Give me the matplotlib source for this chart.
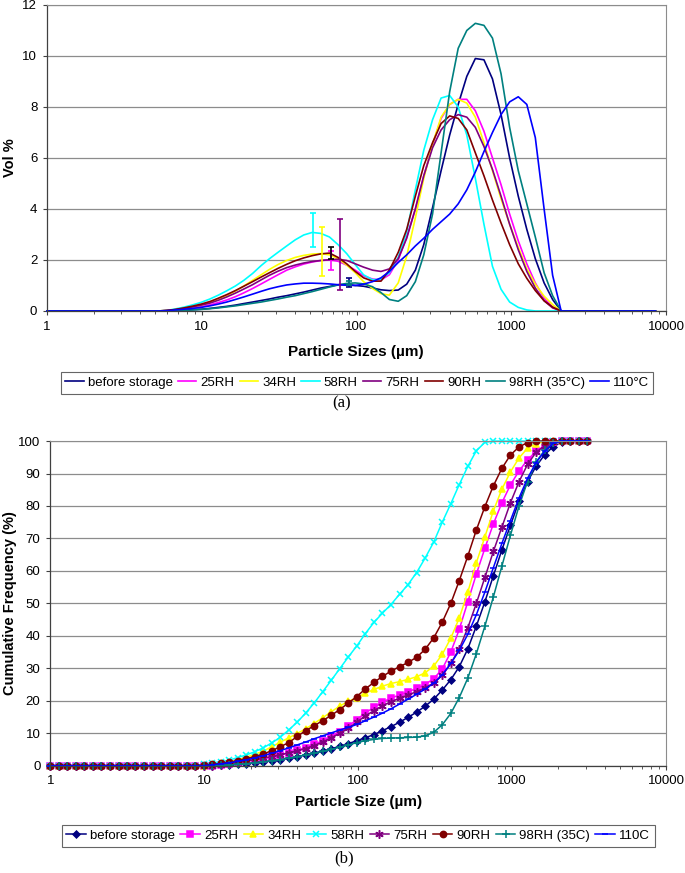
"""Particle size distributions: volume % (a) and cumulative frequency (b)."""

import matplotlib
matplotlib.use("Agg")
import matplotlib.pyplot as plt
from matplotlib.lines import Line2D
from matplotlib.ticker import FixedLocator, FixedFormatter, LogLocator, NullFormatter

plt.rcParams['font.family'] = ['Liberation Sans', 'DejaVu Sans']

# size classes (um)
size_cum = [1.00, 1.14, 1.29, 1.47, 1.67, 1.89, 2.15, 2.44, 2.78, 3.15, 3.58, 4.07, 4.62,
            5.25, 5.96, 6.77, 7.69, 8.74, 9.93, 11.3, 12.8, 14.5, 16.5, 18.7, 21.3, 24.2,
            27.4, 31.1, 35.4, 40.2, 45.6, 51.8, 58.9, 66.9, 76.0, 86.4, 98.1, 111, 127,
            144, 163, 186, 211, 240, 272, 310, 352, 400, 454, 516, 586, 666, 756, 859,
            976, 1110, 1260, 1430, 1630, 1850, 2100, 2390, 2710, 3080]
size_vol = size_cum + [3500, 3980, 4520, 5130, 5830, 6620, 7520, 8540]

labels_vol = ["before storage", "25RH", "34RH", "58RH", "75RH", "90RH", "98RH (35°C)", "110°C"]
labels_cum = ["before storage", "25RH", "34RH", "58RH", "75RH", "90RH", "98RH (35C)", "110C"]

# (a) volume %
vol_before = [0] * 14 + [0, 0.01, 0.03, 0.05, 0.07, 0.1, 0.14, 0.18, 0.23, 0.29, 0.35, 0.41, 0.47,
                         0.54, 0.6, 0.67, 0.74, 0.82, 0.9, 0.96, 1.03, 1.04, 1.0, 0.97, 0.9, 0.83,
                         0.8, 0.82, 1.05, 1.6, 2.6, 4.05, 5.5, 6.9, 8.1, 9.2, 9.9, 9.85, 9.1, 7.7,
                         6.0, 4.5, 3.2, 2.05, 1.1, 0.45] + [0] * 12
vol_25rh = [0] * 14 + [0.01, 0.04, 0.08, 0.12, 0.17, 0.24, 0.33, 0.43, 0.56, 0.71, 0.88, 1.06, 1.24,
                       1.42, 1.6, 1.73, 1.84, 1.92, 1.98, 2.0, 1.95, 1.8, 1.6, 1.38, 1.25, 1.22,
                       1.42, 2.0, 2.9, 4.0, 5.3, 6.5, 7.55, 8.1, 8.3, 8.3, 7.85, 7.05, 6.0, 4.95,
                       3.8, 2.75, 1.85, 1.1, 0.5, 0.16] + [0] * 12
vol_34rh = [0] * 14 + [0.02, 0.05, 0.1, 0.16, 0.23, 0.33, 0.45, 0.6, 0.78, 0.98, 1.2, 1.42, 1.63,
                       1.82, 1.98, 2.1, 2.18, 2.23, 2.25, 2.2, 2.05, 1.8, 1.5, 1.15, 0.88, 0.68,
                       0.62, 1.1, 2.15, 3.65, 5.2, 6.55, 7.6, 8.1, 8.3, 8.15, 7.6, 6.6, 5.5, 4.4,
                       3.4, 2.5, 1.65, 1.05, 0.58, 0.25] + [0] * 12
vol_58rh = [0] * 14 + [0.02, 0.08, 0.15, 0.24, 0.34, 0.47, 0.62, 0.79, 0.98, 1.2, 1.47, 1.78, 2.05,
                       2.3, 2.55, 2.79, 2.98, 3.08, 3.04, 2.9, 2.6, 2.25, 1.82, 1.42, 1.22, 1.25,
                       1.5, 2.1, 3.1, 4.75, 6.3, 7.5, 8.35, 8.45, 8.0, 6.9, 5.2, 3.4, 1.75, 0.85,
                       0.35, 0.14, 0.04, 0, 0, 0] + [0] * 12
vol_75rh = [0] * 14 + [0.02, 0.05, 0.1, 0.16, 0.23, 0.31, 0.42, 0.55, 0.7, 0.86, 1.03, 1.22, 1.4,
                       1.56, 1.7, 1.8, 1.88, 1.94, 1.98, 2.01, 2.03, 1.98, 1.85, 1.72, 1.6, 1.55,
                       1.65, 2.05, 2.85, 4.0, 5.3, 6.4, 7.1, 7.5, 7.7, 7.6, 7.2, 6.45, 5.55, 4.5,
                       3.4, 2.4, 1.55, 0.9, 0.4, 0.12] + [0] * 12
vol_90rh = [0] * 14 + [0.02, 0.06, 0.12, 0.19, 0.27, 0.37, 0.5, 0.64, 0.8, 0.97, 1.15, 1.33, 1.5,
                       1.67, 1.83, 1.97, 2.08, 2.17, 2.24, 2.27, 2.1, 1.85, 1.55, 1.3, 1.17, 1.17,
                       1.6, 2.3, 3.2, 4.5, 5.7, 6.6, 7.35, 7.65, 7.55, 7.1, 6.2, 5.3, 4.35, 3.45,
                       2.6, 1.85, 1.28, 0.8, 0.4, 0.15] + [0] * 12
vol_98rh = [0] * 14 + [0, 0.01, 0.02, 0.04, 0.06, 0.09, 0.12, 0.16, 0.2, 0.25, 0.3, 0.35, 0.41,
                       0.47, 0.54, 0.6, 0.68, 0.76, 0.85, 0.94, 1.02, 1.08, 1.1, 1.06, 0.95, 0.72,
                       0.45, 0.38, 0.6, 1.15, 2.2, 3.8, 6.2, 8.6, 10.3, 11.0, 11.28, 11.2, 10.7,
                       9.3, 7.2, 5.5, 4.2, 2.9, 1.5, 0.6] + [0] * 12
vol_110c = [0] * 14 + [0.01, 0.04, 0.07, 0.1, 0.14, 0.2, 0.27, 0.35, 0.45, 0.55, 0.66, 0.77, 0.87,
                       0.95, 1.02, 1.06, 1.09, 1.09, 1.08, 1.06, 1.03, 1.01, 1.0, 1.05, 1.15, 1.3,
                       1.55, 1.9, 2.2, 2.55, 2.85, 3.2, 3.5, 3.8, 4.2, 4.75, 5.45, 6.25, 7.0, 7.7,
                       8.2, 8.4, 8.1, 6.8, 4.0, 1.4] + [0] * 12

# error bars on the fine mode of (a)
err_x = [52, 59.7, 68.7, 68.7, 78.5, 90, 90]
err_y = [3.165, 2.33, 1.97, 2.28, 2.215, 1.125, 1.1]
err_e = [0.675, 0.95, 0.37, 0.24, 1.385, 0.175, 0.08]
err_col = ["#00FFFF", "#FFFF00", "#FF00FF", "#000000", "#800080", "#000080", "#008080"]

# (b) cumulative frequency %
cum_before = [0] * 20 + [0.1, 0.2, 0.4, 0.6, 0.9, 1.2, 1.5, 1.9, 2.3, 2.8, 3.3, 3.9, 4.5, 5.2, 6.0,
                         6.8, 7.7, 8.6, 9.6, 10.8, 12.0, 13.4, 14.9, 16.5, 18.3, 20.5, 23.3, 26.5,
                         30.5, 36, 43, 50.5, 58.5, 66.5, 74, 81.5, 87.5, 92.2, 95.8, 98.3, 99.6,
                         100, 100, 100]
cum_25rh = [0] * 20 + [0.3, 0.6, 1.0, 1.4, 1.8, 2.2, 2.6, 3.2, 3.9, 4.7, 5.6, 6.6, 7.7, 9.0, 10.5,
                       12.2, 14.2, 16.2, 18.0, 19.6, 20.8, 21.8, 22.8, 23.8, 25.0, 26.8, 29.8, 35,
                       42, 50.5, 59, 67, 74.5, 81, 86.5, 90.8, 94.2, 96.8, 98.6, 99.6, 100, 100,
                       100, 100]
cum_34rh = [0] * 19 + [0.3, 0.7, 1.2, 1.8, 2.6, 3.5, 4.5, 5.8, 7.2, 8.6, 9.9, 11.4, 13.0, 14.8,
                       16.6, 18.4, 19.8, 21.0, 22.3, 23.5, 24.5, 25.3, 25.9, 26.6, 27.4, 28.6,
                       30.7, 34.3, 39.3, 45.5, 53.5, 62.5, 70.5, 78.5, 85.2, 90.5, 94.8, 97.8,
                       99.2, 99.8, 100, 100, 100, 100, 100]
cum_58rh = [0] * 18 + [0.5, 0.9, 1.2, 1.7, 2.5, 3.3, 4.3, 5.5, 7.0, 8.7, 11.0, 13.4, 16.2, 19.3,
                       22.8, 26.3, 29.9, 33.5, 36.9, 40.6, 44.2, 47.0, 49.6, 52.8, 55.8, 59.5,
                       63.9, 68.9, 75.0, 80.7, 86.6, 92.2, 97.0, 99.6] + [100] * 12
cum_75rh = [0] * 20 + [0.3, 0.6, 1.0, 1.4, 1.8, 2.3, 2.8, 3.4, 4.0, 4.6, 5.3, 6.2, 7.3, 8.6, 10.0,
                       11.6, 13.4, 15.3, 17.0, 18.5, 19.7, 20.8, 21.8, 22.8, 24.0, 25.5, 27.8,
                       31.5, 36.0, 42.5, 50.0, 58.0, 66.0, 73.5, 81.0, 87.5, 92.8, 96.5, 98.6,
                       99.6, 100, 100, 100, 100]
cum_90rh = [0] * 18 + [0.2, 0.4, 0.7, 1.0, 1.6, 2.2, 2.8, 3.6, 4.6, 5.8, 7.1, 9.0, 10.8, 12.3,
                       13.9, 15.5, 17.3, 19.3, 21.3, 23.6, 25.7, 27.5, 29.1, 30.5, 31.8, 33.4,
                       35.8, 39.4, 44.2, 50.0, 57.0, 64.6, 72.6, 79.8, 86.2, 91.6, 95.7, 98.2,
                       99.5, 99.9] + [100] * 6
cum_98rh = [0] * 20 + [0.1, 0.2, 0.4, 0.6, 0.9, 1.2, 1.5, 1.9, 2.3, 2.8, 3.3, 3.8, 4.4, 5.0, 5.7,
                       6.4, 7.1, 7.7, 8.1, 8.4, 8.5, 8.6, 8.7, 8.8, 9.2, 10.3, 12.6, 16.1, 21.0,
                       27.0, 34.5, 43.0, 52.0, 61.5, 71.0, 80.0, 87.5, 93.5, 97.2, 99.3, 100, 100,
                       100, 100]
cum_110c = [0] * 19 + [0.3, 0.6, 0.9, 1.3, 1.8, 2.4, 3.1, 3.8, 4.6, 5.5, 6.4, 7.3, 8.3, 9.2, 10.1,
                       11.0, 11.8, 12.7, 13.8, 15.0, 16.2, 17.5, 19.0, 20.5, 22.0, 23.6, 25.4,
                       28.0, 31.5, 35.5, 40.5, 46.5, 53.5, 61.0, 68.5, 75.5, 82.5, 88.5, 93.3,
                       96.9, 99.3, 100, 100, 100, 100]

colors = ["#000080", "#FF00FF", "#FFFF00", "#00FFFF", "#800080", "#800000", "#008080", "#0000FF"]
markers = ["D", "s", "^", "x", (6, 2, 0), "o", "+", "_"]
msizes = [3.5, 4, 4.5, 5, 6, 4.5, 6, 5]

vol_series = [vol_before, vol_25rh, vol_34rh, vol_58rh, vol_75rh, vol_90rh, vol_98rh, vol_110c]
cum_series = [cum_before, cum_25rh, cum_34rh, cum_58rh, cum_75rh, cum_90rh, cum_98rh, cum_110c]

GRID = "#8c8c8c"
FS = 9.5


def style_axes(ax, ymax, ystep):
    ax.set_xscale("log")
    ax.set_xlim(1, 10000)
    ax.set_ylim(0, ymax)
    ax.set_yticks(range(0, ymax + 1, ystep))
    ax.yaxis.grid(True, color=GRID, lw=0.9)
    ax.set_axisbelow(True)
    ax.xaxis.set_major_locator(FixedLocator([1, 10, 100, 1000, 10000]))
    ax.xaxis.set_major_formatter(FixedFormatter(["1", "10", "100", "1000", "10000"]))
    ax.xaxis.set_minor_locator(LogLocator(base=10, subs=range(2, 10)))
    ax.xaxis.set_minor_formatter(NullFormatter())
    ax.tick_params(axis="both", which="major", labelsize=FS, length=3, width=0.8,
                   color="#404040", pad=4)
    ax.tick_params(axis="x", which="minor", length=2.5, width=0.6, color="#404040")
    for side in ("top", "right"):
        ax.spines[side].set_color(GRID)
    for side in ("left", "bottom"):
        ax.spines[side].set_color("#404040")
        ax.spines[side].set_linewidth(0.9)


fig = plt.figure(figsize=(6.85, 8.73), dpi=100)

# ---- (a) ----
ax1 = fig.add_axes([0.0686, 0.6438, 0.9037, 0.3505])
style_axes(ax1, 12, 2)
for vals, col in zip(vol_series, colors):
    ax1.plot(size_vol, vals, color=col, lw=1.2, clip_on=False)
for x, y, e, col in zip(err_x, err_y, err_e, err_col):
    ax1.errorbar([x], [y], yerr=[e], fmt="none", ecolor=col, elinewidth=1.2,
                 capsize=2.5, capthick=1.2)

fig.text(0.014, 0.819, "Vol %", rotation=90, ha="center", va="center",
         fontsize=10.5, fontweight="bold")
fig.text(0.52, 0.5968, "Particle Sizes (µm)", ha="center", va="center",
         fontsize=11, fontweight="bold")
h1 = [Line2D([], [], color=c, lw=1.2) for c in colors]
fig.legend(h1, labels_vol, loc="center", bbox_to_anchor=(0.521, 0.5613), ncol=8,
           fontsize=FS, frameon=True, fancybox=False, edgecolor="#404040",
           handlelength=1.4, handletextpad=0.3, columnspacing=0.4, borderpad=0.35,
           borderaxespad=0).get_frame().set_linewidth(0.8)
fig.text(0.499, 0.5384, "(a)", ha="center", va="center", fontsize=12,
         family=["Liberation Serif", "DejaVu Serif"])

# ---- (b) ----
ax2 = fig.add_axes([0.0733, 0.1229, 0.8990, 0.3719])
style_axes(ax2, 100, 10)
for vals, col, mk, ms in zip(cum_series, colors, markers, msizes):
    ax2.plot(size_cum, vals, color=col, lw=1.1, marker=mk, ms=ms, mew=1.1,
             mfc=col, mec=col, clip_on=False)

fig.text(0.015, 0.309, "Cumulative Frequency (%)", rotation=90, ha="center", va="center",
         fontsize=10.5, fontweight="bold")
fig.text(0.523, 0.0813, "Particle Size (µm)", ha="center", va="center",
         fontsize=11, fontweight="bold")
h2 = [Line2D([], [], color=c, lw=1.1, marker=m, ms=s, mew=1.1, mfc=c, mec=c)
      for c, m, s in zip(colors, markers, msizes)]
fig.legend(h2, labels_cum, loc="center", bbox_to_anchor=(0.523, 0.0424), ncol=8,
           fontsize=FS, frameon=True, fancybox=False, edgecolor="#404040",
           handlelength=1.5, handletextpad=0.3, columnspacing=0.4, borderpad=0.35,
           borderaxespad=0).get_frame().set_linewidth(0.8)
fig.text(0.503, 0.0172, "(b)", ha="center", va="center", fontsize=12,
         family=["Liberation Serif", "DejaVu Serif"])

fig.savefig("out.png", dpi=100)
